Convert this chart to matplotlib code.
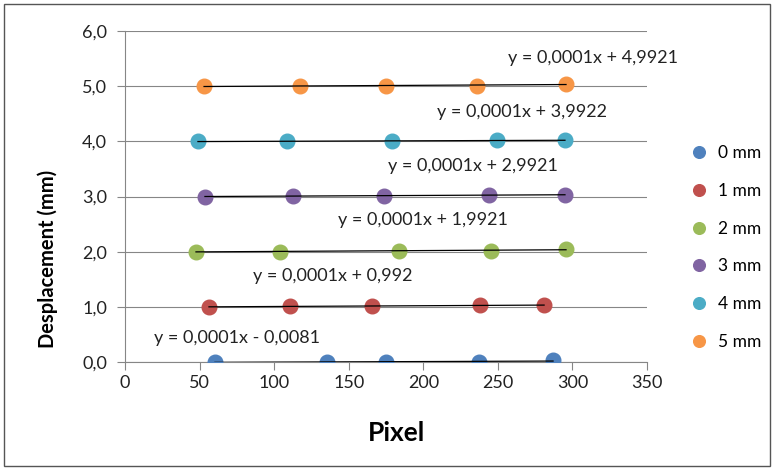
import numpy as np
import matplotlib
matplotlib.use('Agg')
import matplotlib.pyplot as plt
from matplotlib.patches import Rectangle

plt.rcParams['font.family'] = ['Lato', 'DejaVu Sans']

# Données
series_names = ['0 mm', '1 mm', '2 mm', '3 mm', '4 mm', '5 mm']
colors = ['#4F81BD', '#C0504D', '#9BBB59', '#8064A2', '#4BACC6', '#F79646']

x_0mm = [60.3, 135.4, 175.0, 237.4, 287.0]
y_0mm = [0.0, 0.0, 0.0, 0.0, 0.03]
x_1mm = [56.3, 110.6, 165.6, 238.0, 281.0]
y_1mm = [1.0, 1.01, 1.01, 1.03, 1.03]
x_2mm = [47.6, 103.9, 183.7, 245.4, 295.7]
y_2mm = [2.0, 2.0, 2.02, 2.02, 2.04]
x_3mm = [53.6, 112.6, 173.7, 244.1, 295.0]
y_3mm = [3.0, 3.01, 3.01, 3.03, 3.03]
x_4mm = [48.9, 108.6, 179.0, 249.4, 295.0]
y_4mm = [4.0, 4.0, 4.0, 4.02, 4.02]
x_5mm = [53.0, 117.3, 175.0, 236.0, 295.7]
y_5mm = [5.0, 5.0, 5.01, 5.01, 5.04]

equations = ['y = 0,0001x - 0,0081', 'y = 0,0001x + 0,992', 'y = 0,0001x + 1,9921',
             'y = 0,0001x + 2,9921', 'y = 0,0001x + 3,9922', 'y = 0,0001x + 4,9921']
eq_x = [75, 139, 200, 233, 266, 313.5]
eq_y = [0.43, 1.56, 2.57, 3.55, 4.53, 5.51]

xs = [x_0mm, x_1mm, x_2mm, x_3mm, x_4mm, x_5mm]
ys = [y_0mm, y_1mm, y_2mm, y_3mm, y_4mm, y_5mm]

fig = plt.figure(figsize=(7.72, 4.68), dpi=100)
ax = fig.add_axes([125 / 772, 1 - 362 / 468, 522 / 772, 331 / 468])

for x, y, c, name in zip(xs, ys, colors, series_names):
    ax.plot(x, y, 'o', color=c, markersize=10.5, label=name, zorder=3)

# Courbes de tendance linéaires
for x, y in zip(xs, ys):
    p = np.polyfit(x, y, 1)
    xx = np.array([min(x), max(x)])
    ax.plot(xx, np.polyval(p, xx), color='black', linewidth=0.9, zorder=4)

for txt, tx, ty in zip(equations, eq_x, eq_y):
    ax.text(tx, ty, txt, fontsize=13, ha='center', va='center', color='#222222')

ax.set_xlim(0, 350)
ax.set_ylim(0, 6)
ax.set_xticks(np.arange(0, 351, 50))
ax.set_yticks(np.arange(0, 6.1, 1))
ax.set_yticklabels([f'{v:.1f}'.replace('.', ',') for v in np.arange(0, 6.1, 1)])
ax.tick_params(labelsize=13, color='#868686', length=6, labelcolor='#222222')
ax.tick_params(axis='y', pad=7)
ax.grid(axis='y', color='#868686', linewidth=0.8)
ax.set_axisbelow(True)
for s in ['top', 'right']:
    ax.spines[s].set_visible(False)
for s in ['left', 'bottom']:
    ax.spines[s].set_color('#868686')

ax.set_xlabel('Pixel', fontsize=19, fontweight='bold')
ax.xaxis.set_label_coords(0.521, -0.178)
ax.set_ylabel('Desplacement (mm)', fontsize=14.5, fontweight='bold')
ax.yaxis.label.set_verticalalignment('center')
ax.yaxis.set_label_coords(-0.149, 0.312)

ax.legend(loc='center left', bbox_to_anchor=((666 - 125) / 522, 0.346), frameon=False,
          fontsize=12.5, handletextpad=0.1, labelspacing=1.25, markerscale=0.8)

fig.patches.append(Rectangle((4 / 772, 2 / 468), 766 / 772, 462 / 468, transform=fig.transFigure,
                             fill=False, edgecolor='#555555', linewidth=1))

fig.savefig('out.png', dpi=100)
